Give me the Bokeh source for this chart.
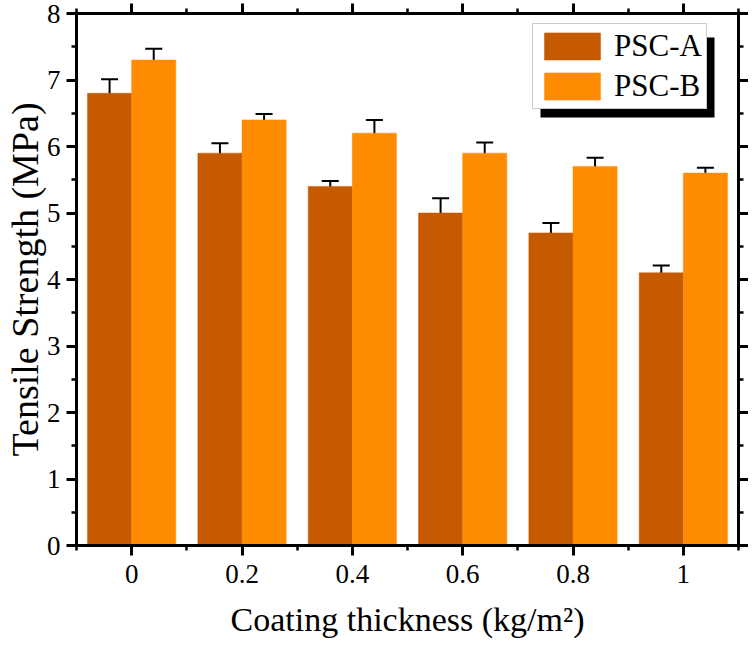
from bokeh.plotting import figure
from bokeh.models import (Range1d, LinearAxis, FixedTicker, Whisker, TeeHead,
                          ColumnDataSource, Legend, LegendItem, BoxAnnotation,
                          CustomJSTickFormatter)
from bokeh.embed import file_html
from bokeh.resources import INLINE

# ---- data ----
thickness = [0.0, 0.2, 0.4, 0.6, 0.8, 1.0]
x_tick_labels = ["0", "0.2", "0.4", "0.6", "0.8", "1"]
psc_a = [6.8, 5.9, 5.4, 5.0, 4.7, 4.1]
psc_a_err = [0.21, 0.15, 0.08, 0.22, 0.15, 0.11]
psc_b = [7.3, 6.4, 6.2, 5.9, 5.7, 5.6]
psc_b_err = [0.17, 0.09, 0.2, 0.16, 0.13, 0.08]
series_names = ["PSC-A", "PSC-B"]
y_ticks = [0, 1, 2, 3, 4, 5, 6, 7, 8]

BAR_W = 0.08
COL_A = "#C55A00"
COL_B = "#FF8C00"
FONT = "Liberation Serif"
FW, FH = 662, 532
X0, X1, Y0, Y1 = -0.1, 1.1, 0.0, 8.0

p = figure(frame_width=FW, frame_height=FH, output_backend="svg", toolbar_location=None,
           x_range=Range1d(X0, X1), y_range=Range1d(Y0, Y1),
           x_axis_location=None, y_axis_location=None,
           min_border_left=0, min_border_right=0, min_border_top=13, min_border_bottom=0)
p.outline_line_color = None
p.grid.visible = False
p.background_fill_color = "white"

xa = [t - BAR_W / 2 for t in thickness]
xb = [t + BAR_W / 2 for t in thickness]
src_a = ColumnDataSource(dict(x=xa, top=psc_a,
                              up=[v + e for v, e in zip(psc_a, psc_a_err)],
                              lo=[v - e for v, e in zip(psc_a, psc_a_err)]))
src_b = ColumnDataSource(dict(x=xb, top=psc_b,
                              up=[v + e for v, e in zip(psc_b, psc_b_err)],
                              lo=[v - e for v, e in zip(psc_b, psc_b_err)]))

ra = p.vbar(x="x", top="top", bottom=0, width=BAR_W, source=src_a,
            fill_color=COL_A, line_color=COL_A, line_width=0.5)
rb = p.vbar(x="x", top="top", bottom=0, width=BAR_W, source=src_b,
            fill_color=COL_B, line_color=COL_B, line_width=0.5)

for src in (src_a, src_b):
    w = Whisker(base="x", upper="up", lower="lo", source=src,
                line_color="black", line_width=2,
                upper_head=TeeHead(size=17, line_width=2, line_color="black"),
                lower_head=TeeHead(size=17, line_width=2, line_color="black"))
    p.add_layout(w)

x_ticker = FixedTicker(ticks=thickness,
                       minor_ticks=[-0.1, 0.1, 0.3, 0.5, 0.7, 0.9, 1.1])
y_ticker = FixedTicker(ticks=y_ticks, minor_ticks=[v + 0.5 for v in range(-1, 9)])


def style(ax, show_labels):
    ax.axis_line_width = 3
    ax.axis_line_color = "black"
    ax.major_tick_line_width = 3
    ax.minor_tick_line_width = 2.5
    ax.major_tick_out = 10
    ax.major_tick_in = 0
    ax.minor_tick_out = 5
    ax.minor_tick_in = 0
    ax.major_label_text_font = FONT
    ax.major_label_text_color = "black"
    ax.major_label_text_font_size = "27px"
    if not show_labels:
        ax.formatter = CustomJSTickFormatter(code="return ''")
        ax.major_label_standoff = 0


bottom = LinearAxis(ticker=x_ticker,
                    major_label_overrides={t: l for t, l in zip(thickness, x_tick_labels)},
                    axis_label="Coating thickness (kg/m²)")
style(bottom, True)
bottom.major_label_standoff = 9
bottom.axis_label_text_font = FONT
bottom.axis_label_text_font_size = "34px"
bottom.axis_label_text_font_style = "normal"
bottom.axis_label_text_color = "black"
bottom.axis_label_standoff = 15
p.add_layout(bottom, "below")

left = LinearAxis(ticker=y_ticker, axis_label="Tensile Strength (MPa)")
style(left, True)
left.major_label_standoff = 6
left.axis_label_text_font = FONT
left.axis_label_text_font_size = "38px"
left.axis_label_text_font_style = "normal"
left.axis_label_text_color = "black"
left.axis_label_standoff = -2
p.add_layout(left, "left")

top = LinearAxis(ticker=x_ticker)
style(top, False)
p.add_layout(top, "above")

right = LinearAxis(ticker=y_ticker)
style(right, False)
p.add_layout(right, "right")

# legend placement (screen px inside frame, from bottom-left)
LEG_X, LEG_Y, LEG_W, LEG_H, SH = 456, 436, 174, 80, 8
sx = (X1 - X0) / FW
sy = (Y1 - Y0) / FH
shadow = BoxAnnotation(left=X0 + (LEG_X + SH) * sx, right=X0 + (LEG_X + LEG_W + SH) * sx,
                       top=Y0 + (LEG_Y + LEG_H - SH) * sy, bottom=Y0 + (LEG_Y - SH) * sy,
                       fill_color="black", fill_alpha=1.0, line_color=None)
p.add_layout(shadow)

legend = Legend(items=[LegendItem(label=series_names[0], renderers=[ra]),
                       LegendItem(label=series_names[1], renderers=[rb])],
                location=(LEG_X, LEG_Y))
legend.label_text_font = FONT
legend.label_text_font_size = "31px"
legend.label_text_color = "black"
legend.glyph_width = 70
legend.glyph_height = 34
legend.label_height = 34
legend.label_standoff = 7
legend.spacing = 4
legend.padding = 4
legend.margin = 0
legend.border_line_color = "#999999"
legend.border_line_width = 1
legend.background_fill_color = "white"
legend.background_fill_alpha = 1.0
p.add_layout(legend, "center")

open("out.html", "w").write(file_html(p, INLINE))
